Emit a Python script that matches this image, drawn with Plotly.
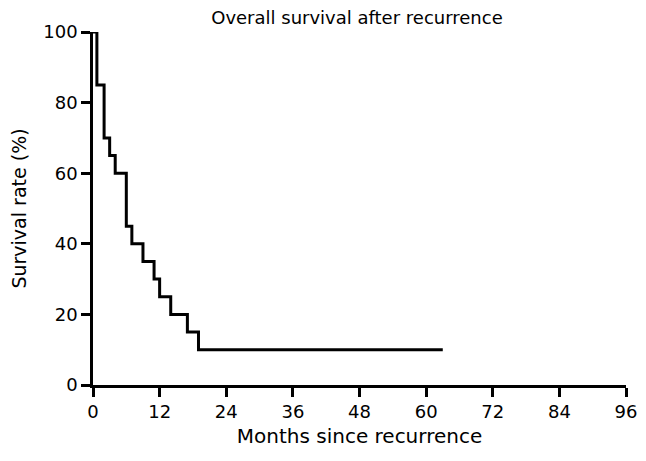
import plotly.graph_objects as go

# Kaplan-Meier step data (months, survival %)
months = [0, 0.7, 2, 3, 4, 6, 7, 9, 11, 12, 14, 17, 19, 63]
survival = [100, 85, 70, 65, 60, 45, 40, 35, 30, 25, 20, 15, 10, 10]

x_ticks = [0, 12, 24, 36, 48, 60, 72, 84, 96]
y_ticks = [0, 20, 40, 60, 80, 100]

fig = go.Figure()
fig.add_trace(go.Scatter(
    x=months, y=survival, mode="lines",
    line=dict(shape="hv", color="black", width=3),
    cliponaxis=False, showlegend=False,
))

font = "DejaVu Sans, Liberation Sans, Arial, sans-serif"
fig.update_layout(
    width=638, height=453,
    margin=dict(l=85, r=20, t=24, b=76, autoexpand=False),
    paper_bgcolor="white", plot_bgcolor="white",
    font=dict(family=font, color="black", size=18),
    title=dict(text="Overall survival after recurrence", x=0.547, xanchor="center",
               y=0.993, yanchor="top", pad=dict(t=0, b=0),
               font=dict(size=18, family=font)),
)
fig.update_xaxes(
    range=[0, 96], tickvals=x_ticks, ticks="outside", ticklen=9, tickwidth=2.5,
    tickcolor="black", showline=True, linecolor="black", linewidth=2.5,
    showgrid=False, zeroline=False, tickfont=dict(size=18), automargin=False,
    title=dict(text="Months since recurrence", font=dict(size=20), standoff=8),
)
fig.update_yaxes(
    range=[0, 100], tickvals=y_ticks, ticks="outside", ticklen=9, tickwidth=2.5,
    tickcolor="black", showline=True, linecolor="black", linewidth=2.5,
    showgrid=False, zeroline=False, tickfont=dict(size=18), automargin=False,
    title=dict(text="Survival rate (%)", font=dict(size=19), standoff=12),
)
fig.write_html("out.html")
